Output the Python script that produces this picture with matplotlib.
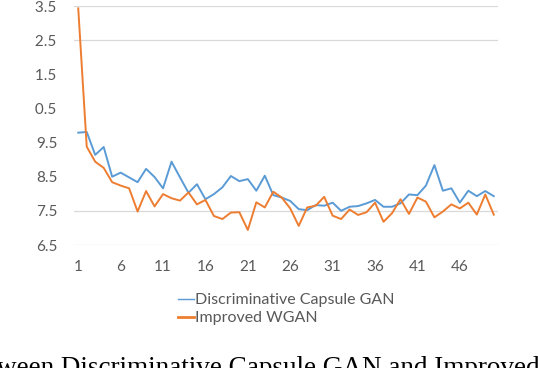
import matplotlib.pyplot as plt
from matplotlib.lines import Line2D
from matplotlib.transforms import Bbox, TransformedBbox

# epochs 1..50
epochs = list(range(1, 51))

capsule_gan = [9.79, 9.81, 9.14, 9.37, 8.50, 8.62, 8.48, 8.34, 8.73, 8.49,
               8.16, 8.94, 8.48, 8.03, 8.28, 7.84, 7.99, 8.19, 8.52, 8.37,
               8.43, 8.09, 8.53, 7.96, 7.89, 7.79, 7.55, 7.52, 7.67, 7.65,
               7.74, 7.50, 7.62, 7.64, 7.72, 7.82, 7.62, 7.62, 7.72, 7.98,
               7.96, 8.24, 8.84, 8.09, 8.16, 7.74, 8.09, 7.93, 8.08, 7.93]

improved_wgan = [13.43, 9.38, 8.94, 8.76, 8.34, 8.24, 8.16, 7.48, 8.08, 7.63,
                 7.99, 7.87, 7.80, 8.04, 7.69, 7.82, 7.35, 7.26, 7.45, 7.46,
                 6.94, 7.75, 7.60, 8.06, 7.89, 7.57, 7.06, 7.60, 7.65, 7.91,
                 7.36, 7.26, 7.54, 7.38, 7.46, 7.74, 7.18, 7.43, 7.84, 7.41,
                 7.89, 7.77, 7.31, 7.48, 7.69, 7.57, 7.74, 7.39, 7.98, 7.39]

yticks = [6.5, 7.5, 8.5, 9.5, 10.5, 11.5, 12.5, 13.5]
xticks = [1, 6, 11, 16, 21, 26, 31, 36, 41, 46]
grid_rows = [6.5, 7.5, 12.5, 13.5]  # the middle gridlines are lost in the source image

blue = '#5B9BD5'
orange = '#ED7D31'
grey = '#595959'

fig = plt.figure(figsize=(5.38, 3.68), dpi=100)
ax = fig.add_axes([74 / 538, 1 - 245 / 368, 424 / 538, 239 / 368])

for g in grid_rows:
    ax.axhline(g, color='#D9D9D9', lw=0.9, zorder=0)

ax.plot(epochs, capsule_gan, color=blue, lw=1.4, solid_joinstyle='round')
ax.plot(epochs, improved_wgan, color=orange, lw=1.4, solid_joinstyle='round')

ax.set_xlim(0.5, 50.5)
ax.set_ylim(6.5, 13.5)
ax.set_xticks(xticks)
ax.set_xticklabels([str(t) for t in xticks])
ax.set_yticks(yticks)
ax.set_yticklabels(['%.1f' % t for t in yticks])
ax.tick_params(length=0, labelsize=11, labelcolor=grey)
ax.tick_params(axis='y', pad=12)
ax.tick_params(axis='x', pad=11)
for s in ax.spines.values():
    s.set_visible(False)

# the source picture is cropped just left of the y labels, so their first digit is cut
crop = TransformedBbox(Bbox([[35 / 538, 0], [1, 1]]), fig.transFigure)
for lbl in ax.get_xticklabels() + ax.get_yticklabels():
    lbl.set_family('Lato')
for lbl in ax.get_yticklabels():
    lbl.set_clip_box(crop)
    lbl.set_clip_on(True)

handles = [Line2D([], [], color=blue, lw=1.0), Line2D([], [], color=orange, lw=2.0)]
fig.legend(handles, ['Discriminative Capsule GAN', 'Improved WGAN'],
           loc='upper left', bbox_to_anchor=(178 / 538, 1 - 293 / 368),
           frameon=False, handlelength=1.0, handletextpad=0.05,
           labelspacing=0.25, borderpad=0, borderaxespad=0,
           prop={'family': 'Lato', 'size': 11.5}, labelcolor=grey)

# caption of the paper figure, cut off at the bottom of the crop
fig.text(-3 / 538, 1 - 375 / 368, 'ween Discriminative Capsule GAN and Improved',
         family='Liberation Serif', fontsize=19.5, color='black',
         ha='left', va='baseline')

fig.savefig('out.png', dpi=100)
